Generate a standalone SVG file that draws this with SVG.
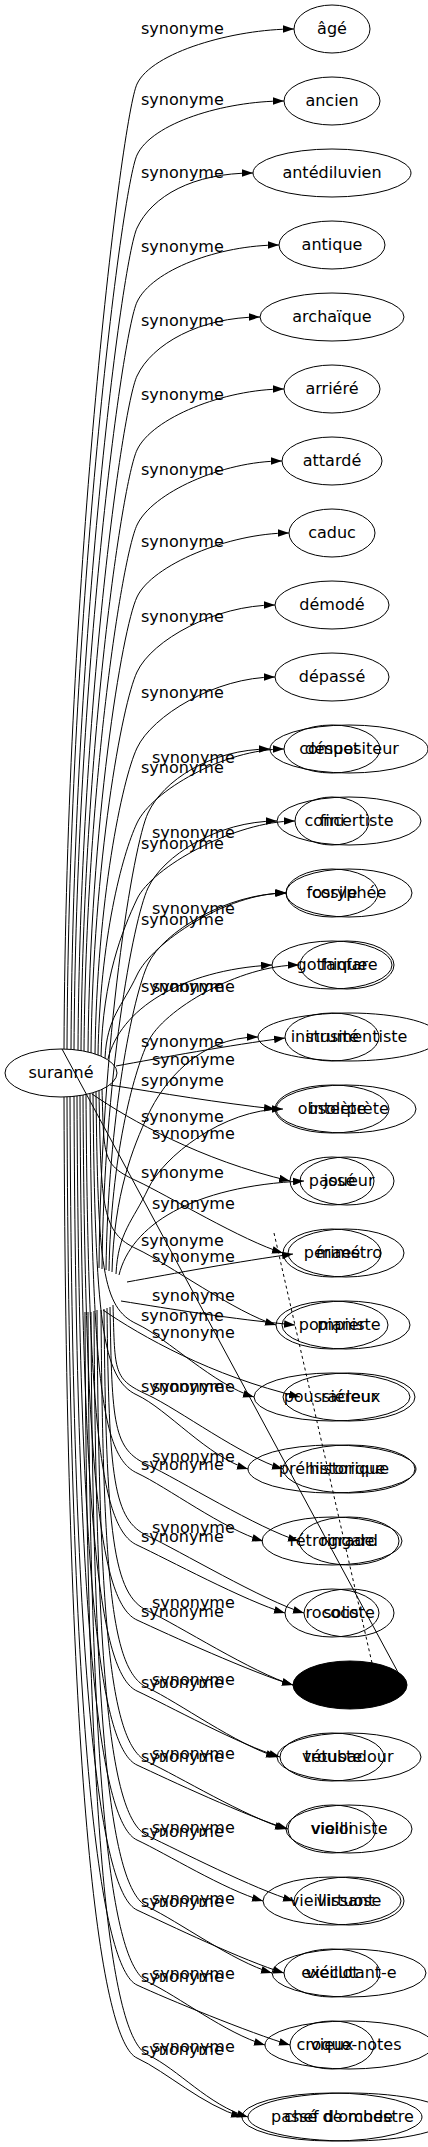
<svg xmlns="http://www.w3.org/2000/svg" width="428" height="2147" viewBox="0 0 428 2147">
<style>
text{font-family:"DejaVu Sans","Liberation Sans",sans-serif;font-size:16px;fill:#000}
.n ellipse{fill:none;stroke:#000;stroke-width:1}
.n text{text-anchor:middle}
.e path{fill:none;stroke:#000;stroke-width:1;marker-end:url(#arr)}
.e line{stroke:#000;stroke-width:1}
</style>
<defs>
<marker id="arr" viewBox="0 0 10 7" refX="10" refY="3.5" markerUnits="userSpaceOnUse" markerWidth="11" markerHeight="8" orient="auto"><path d="M0,0 L10,3.5 L0,7 z" fill="#000"/></marker>
</defs>
<rect width="428" height="2147" fill="#fff"/>
<g id="connectors" class="e">
<path d="M64,1049 C66,567 122,116 137,84 C152,52 234,29 294,29"/>
<path d="M67,1049 C69,602 122,187 137,155 C152,123 224,101 284,101"/>
<path d="M71,1049 C73,639 122,260 137,228 C152,196 193,173 253,173"/>
<path d="M74,1050 C76,676 122,334 137,302 C152,270 219,245 279,245"/>
<path d="M78,1050 C80,713 122,408 137,376 C152,344 200,317 260,317"/>
<path d="M81,1051 C83,750 122,482 137,450 C152,418 224,389 284,389"/>
<path d="M84,1051 C86,788 122,557 137,525 C152,493 222,461 282,461"/>
<path d="M88,1052 C90,824 122,629 137,597 C152,565 229,533 289,533"/>
<path d="M91,1053 C93,862 122,704 137,672 C152,640 215,605 275,605"/>
<path d="M95,1054 C97,901 122,780 137,748 C152,716 215,677 275,677"/>
<path d="M98,1055 C100,939 122,855 137,823 C152,791 224,749 284,749"/>
<path d="M101,1056 C103,978 122,931 137,899 C152,867 235,821 295,821"/>
<path d="M105,1058 C107,1017 122,1007 137,975 C152,943 226,893 286,893"/>
<path d="M108,1059 C120,1010 180,970 272,965"/>
<path d="M116,1066 C160,1058 230,1045 285,1038"/>
<path d="M110,1085 C160,1093 220,1103 275,1109"/>
<path d="M92,1094 C130,1120 200,1160 290,1181"/>
<path d="M102,1089 C104,1158 102,1165 137,1181 C167,1195 243,1241 283,1253"/>
<path d="M99,1091 C101,1209 102,1233 137,1249 C167,1263 236,1313 276,1325"/>
<path d="M96,1092 C98,1266 102,1308 137,1324 C167,1338 214,1385 254,1397"/>
<path d="M93,1093 C95,1320 102,1379 137,1395 C167,1409 208,1457 248,1469"/>
<path d="M90,1094 C92,1378 102,1457 137,1473 C167,1487 223,1529 263,1541"/>
<path d="M86,1094 C88,1432 102,1529 137,1545 C167,1559 245,1601 285,1613"/>
<path d="M83,1095 C85,1489 102,1604 137,1620 C167,1634 253,1673 293,1685"/>
<path d="M80,1096 C82,1542 102,1675 137,1691 C167,1705 240,1745 280,1757"/>
<path d="M77,1096 C79,1598 102,1749 137,1765 C167,1779 248,1817 288,1829"/>
<path d="M74,1096 C76,1654 102,1824 137,1840 C167,1854 223,1889 263,1901"/>
<path d="M70,1097 C72,1707 102,1894 137,1910 C167,1924 244,1961 284,1973"/>
<path d="M67,1097 C69,1763 102,1969 137,1985 C167,1999 250,2033 290,2045"/>
<path d="M64,1097 C66,1818 102,2042 137,2058 C167,2072 202,2105 242,2117"/>
<path d="M99,1268 C101,1041 133,845 148,813 C163,781 210,749 270,749"/>
<path d="M102,1269 C104,1078 133,920 148,888 C163,856 217,821 277,821"/>
<path d="M106,1270 C108,1117 133,996 148,964 C163,932 227,893 287,893"/>
<path d="M109,1271 C111,1157 133,1074 148,1042 C163,1010 239,965 299,965"/>
<path d="M112,1272 C114,1194 133,1147 148,1115 C163,1083 198,1037 258,1037"/>
<path d="M116,1274 C118,1232 133,1221 148,1189 C163,1157 223,1109 283,1109"/>
<path d="M119,1275 C131,1226 191,1186 304,1181"/>
<path d="M127,1282 C171,1274 241,1261 293,1254"/>
<path d="M121,1301 C171,1309 231,1319 295,1325"/>
<path d="M103,1310 C141,1336 211,1376 300,1397"/>
<path d="M113,1305 C115,1373 113,1379 148,1395 C178,1409 243,1457 283,1469"/>
<path d="M110,1307 C112,1425 113,1449 148,1465 C178,1479 259,1529 299,1541"/>
<path d="M107,1308 C109,1479 113,1520 148,1536 C178,1550 264,1601 304,1613"/>
<path d="M104,1309 C106,1536 113,1595 148,1611 C178,1625 253,1673 293,1685"/>
<path d="M101,1310 C103,1593 113,1672 148,1688 C178,1702 237,1745 277,1757"/>
<path d="M97,1310 C99,1649 113,1746 148,1762 C178,1776 246,1817 286,1829"/>
<path d="M94,1311 C96,1705 113,1820 148,1836 C178,1850 254,1889 294,1901"/>
<path d="M91,1312 C93,1758 113,1891 148,1907 C178,1921 232,1961 272,1973"/>
<path d="M88,1312 C90,1815 113,1966 148,1982 C178,1996 225,2033 265,2045"/>
<path d="M85,1312 C87,1869 113,2039 148,2055 C178,2069 208,2105 248,2117"/>
<line x1="62" y1="1049" x2="400" y2="1676"/>
<line x1="274" y1="1233" x2="372" y2="1663" stroke-dasharray="3,3"/>
<g id="edge-labels">
<text x="141" y="34">synonyme</text>
<text x="141" y="105">synonyme</text>
<text x="141" y="178">synonyme</text>
<text x="141" y="252">synonyme</text>
<text x="141" y="326">synonyme</text>
<text x="141" y="400">synonyme</text>
<text x="141" y="475">synonyme</text>
<text x="141" y="547">synonyme</text>
<text x="141" y="622">synonyme</text>
<text x="141" y="698">synonyme</text>
<text x="141" y="773">synonyme</text>
<text x="141" y="849">synonyme</text>
<text x="141" y="925">synonyme</text>
<text x="141" y="992">synonyme</text>
<text x="141" y="1047">synonyme</text>
<text x="141" y="1086">synonyme</text>
<text x="141" y="1122">synonyme</text>
<text x="141" y="1178">synonyme</text>
<text x="141" y="1246">synonyme</text>
<text x="141" y="1321">synonyme</text>
<text x="141" y="1392">synonyme</text>
<text x="141" y="1470">synonyme</text>
<text x="141" y="1542">synonyme</text>
<text x="141" y="1617">synonyme</text>
<text x="141" y="1688">synonyme</text>
<text x="141" y="1762">synonyme</text>
<text x="141" y="1837">synonyme</text>
<text x="141" y="1907">synonyme</text>
<text x="141" y="1982">synonyme</text>
<text x="141" y="2055">synonyme</text>
<text x="152" y="763">synonyme</text>
<text x="152" y="838">synonyme</text>
<text x="152" y="914">synonyme</text>
<text x="152" y="992">synonyme</text>
<text x="152" y="1065">synonyme</text>
<text x="152" y="1139">synonyme</text>
<text x="152" y="1209">synonyme</text>
<text x="152" y="1262">synonyme</text>
<text x="152" y="1301">synonyme</text>
<text x="152" y="1338">synonyme</text>
<text x="152" y="1392">synonyme</text>
<text x="152" y="1462">synonyme</text>
<text x="152" y="1533">synonyme</text>
<text x="152" y="1608">synonyme</text>
<text x="152" y="1685">synonyme</text>
<text x="152" y="1759">synonyme</text>
<text x="152" y="1833">synonyme</text>
<text x="152" y="1904">synonyme</text>
<text x="152" y="1979">synonyme</text>
<text x="152" y="2052">synonyme</text>
</g>
</g>
<g id="center" class="n"><ellipse cx="61" cy="1073" rx="56" ry="24"/><text x="61" y="1078">suranné</text></g>
<g id="n0" class="n"><ellipse cx="332" cy="29" rx="38" ry="24"/><text x="332" y="34">âgé</text></g>
<g id="n1" class="n"><ellipse cx="332" cy="101" rx="48" ry="24"/><text x="332" y="106">ancien</text></g>
<g id="n2" class="n"><ellipse cx="332" cy="173" rx="79" ry="24"/><text x="332" y="178">antédiluvien</text></g>
<g id="n3" class="n"><ellipse cx="332" cy="245" rx="53" ry="24"/><text x="332" y="250">antique</text></g>
<g id="n4" class="n"><ellipse cx="332" cy="317" rx="72" ry="24"/><text x="332" y="322">archaïque</text></g>
<g id="n5" class="n"><ellipse cx="332" cy="389" rx="48" ry="24"/><text x="332" y="394">arriéré</text></g>
<g id="n6" class="n"><ellipse cx="332" cy="461" rx="50" ry="24"/><text x="332" y="466">attardé</text></g>
<g id="n7" class="n"><ellipse cx="332" cy="533" rx="43" ry="24"/><text x="332" y="538">caduc</text></g>
<g id="n8" class="n"><ellipse cx="332" cy="605" rx="57" ry="24"/><text x="332" y="610">démodé</text></g>
<g id="n9" class="n"><ellipse cx="332" cy="677" rx="57" ry="24"/><text x="332" y="682">dépassé</text></g>
<g id="n10" class="n"><ellipse cx="332" cy="749" rx="48" ry="24"/><text x="332" y="754">désuet</text></g>
<g id="n11" class="n"><ellipse cx="332" cy="821" rx="37" ry="24"/><text x="332" y="826">fini</text></g>
<g id="n12" class="n"><ellipse cx="332" cy="893" rx="46" ry="24"/><text x="332" y="898">fossile</text></g>
<g id="n13" class="n"><ellipse cx="332" cy="965" rx="60" ry="24"/><text x="332" y="970">gothique</text></g>
<g id="n14" class="n"><ellipse cx="332" cy="1037" rx="47" ry="24"/><text x="332" y="1042">inusité</text></g>
<g id="n15" class="n"><ellipse cx="332" cy="1109" rx="57" ry="24"/><text x="332" y="1114">obsolète</text></g>
<g id="n16" class="n"><ellipse cx="332" cy="1181" rx="42" ry="24"/><text x="332" y="1186">passé</text></g>
<g id="n17" class="n"><ellipse cx="332" cy="1253" rx="49" ry="24"/><text x="332" y="1258">périmé</text></g>
<g id="n18" class="n"><ellipse cx="332" cy="1325" rx="56" ry="24"/><text x="332" y="1330">pompier</text></g>
<g id="n19" class="n"><ellipse cx="332" cy="1397" rx="78" ry="24"/><text x="332" y="1402">poussiéreux</text></g>
<g id="n20" class="n"><ellipse cx="332" cy="1469" rx="84" ry="24"/><text x="332" y="1474">préhistorique</text></g>
<g id="n21" class="n"><ellipse cx="332" cy="1541" rx="70" ry="24"/><text x="332" y="1546">rétrograde</text></g>
<g id="n22" class="n"><ellipse cx="332" cy="1613" rx="47" ry="24"/><text x="332" y="1618">rococo</text></g>
<g id="n24" class="n"><ellipse cx="332" cy="1757" rx="52" ry="24"/><text x="332" y="1762">vétuste</text></g>
<g id="n25" class="n"><ellipse cx="332" cy="1829" rx="44" ry="24"/><text x="332" y="1834">vieilli</text></g>
<g id="n26" class="n"><ellipse cx="332" cy="1901" rx="69" ry="24"/><text x="332" y="1906">vieillissant</text></g>
<g id="n27" class="n"><ellipse cx="332" cy="1973" rx="48" ry="24"/><text x="332" y="1978">vieillot</text></g>
<g id="n28" class="n"><ellipse cx="332" cy="2045" rx="42" ry="24"/><text x="332" y="2050">vieux</text></g>
<g id="n29" class="n"><ellipse cx="332" cy="2117" rx="90" ry="24"/><text x="332" y="2122">passé de mode</text></g>
<g id="m10" class="n"><ellipse cx="349" cy="749" rx="79" ry="24"/><text x="349" y="754">compositeur</text></g>
<g id="m11" class="n"><ellipse cx="349" cy="821" rx="72" ry="24"/><text x="349" y="826">concertiste</text></g>
<g id="m12" class="n"><ellipse cx="349" cy="893" rx="63" ry="24"/><text x="349" y="898">coryphée</text></g>
<g id="m13" class="n"><ellipse cx="347" cy="965" rx="47" ry="24"/><text x="349" y="970">fanfare</text></g>
<g id="m14" class="n"><ellipse cx="349" cy="1037" rx="91" ry="24"/><text x="349" y="1042">instrumentiste</text></g>
<g id="m15" class="n"><ellipse cx="346" cy="1109" rx="70" ry="24"/><text x="349" y="1114">interprète</text></g>
<g id="m16" class="n"><ellipse cx="347" cy="1181" rx="47" ry="24"/><text x="349" y="1186">joueur</text></g>
<g id="m17" class="n"><ellipse cx="346" cy="1253" rx="58" ry="24"/><text x="349" y="1258">maestro</text></g>
<g id="m18" class="n"><ellipse cx="346" cy="1325" rx="64" ry="24"/><text x="349" y="1330">pianiste</text></g>
<g id="m19" class="n"><ellipse cx="349" cy="1397" rx="66" ry="24"/><text x="349" y="1402">racleur</text></g>
<g id="m20" class="n"><ellipse cx="349" cy="1469" rx="66" ry="24"/><text x="349" y="1474">historique</text></g>
<g id="m21" class="n"><ellipse cx="349" cy="1541" rx="50" ry="24"/><text x="349" y="1546">ringard</text></g>
<g id="m22" class="n"><ellipse cx="349" cy="1613" rx="45" ry="24"/><text x="349" y="1618">soliste</text></g>
<g id="m23" class="n"><ellipse cx="350" cy="1685" rx="57" ry="24" style="fill:#000"/></g>
<g id="m24" class="n"><ellipse cx="349" cy="1757" rx="72" ry="24"/><text x="349" y="1762">troubadour</text></g>
<g id="m25" class="n"><ellipse cx="349" cy="1829" rx="63" ry="24"/><text x="349" y="1834">violoniste</text></g>
<g id="m26" class="n"><ellipse cx="349" cy="1901" rx="55" ry="24"/><text x="349" y="1906">virtuose</text></g>
<g id="m27" class="n"><ellipse cx="349" cy="1973" rx="77" ry="24"/><text x="349" y="1978">exécutant-e</text></g>
<g id="m28" class="n"><ellipse cx="349" cy="2045" rx="84" ry="24"/><text x="349" y="2050">croque-notes</text></g>
<g id="m29" class="n"><ellipse cx="349" cy="2117" rx="101" ry="24"/><text x="349" y="2122">chef d'orchestre</text></g>
</svg>
